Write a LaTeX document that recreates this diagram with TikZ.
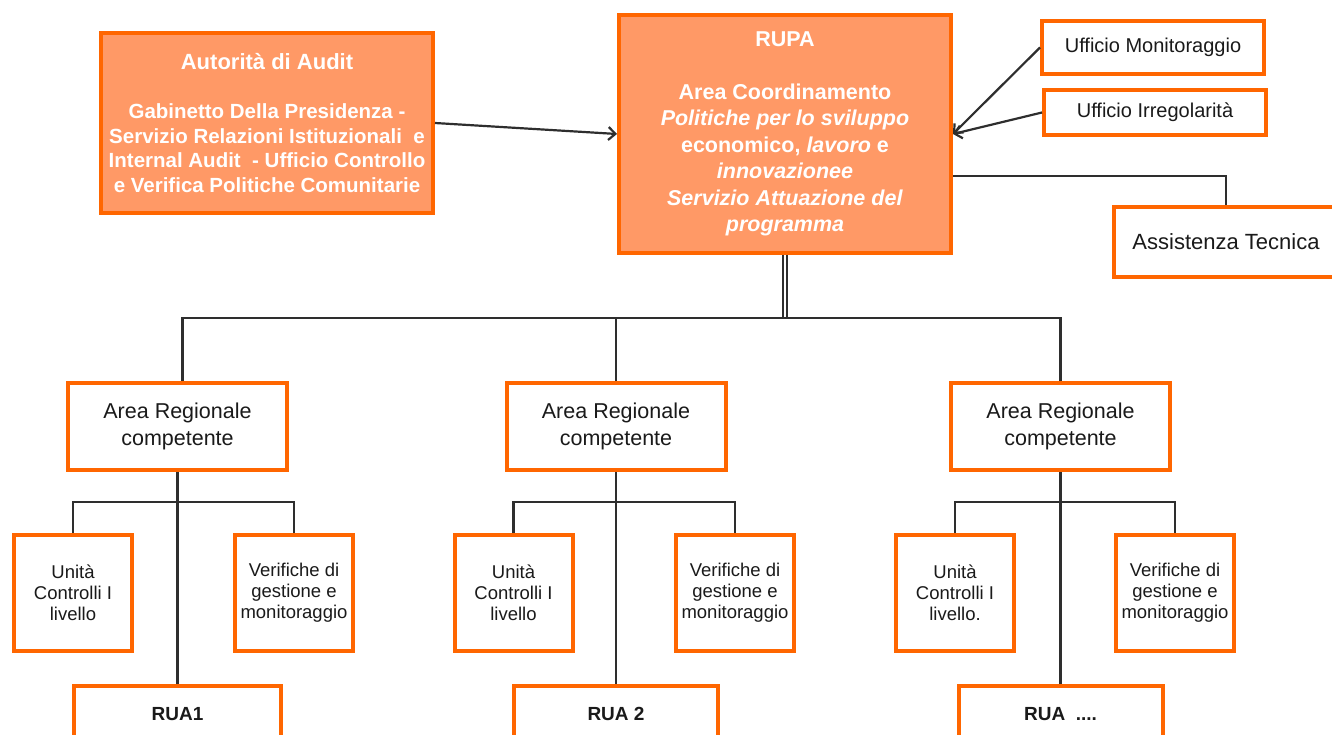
\documentclass[tikz,border=0pt]{standalone}
\usepackage{fontspec}
\setmainfont{Liberation Sans}
\usetikzlibrary{arrows.meta,calc}
\definecolor{orbd}{HTML}{FF6600}
\definecolor{orfill}{HTML}{FF9966}
\definecolor{ln}{HTML}{2E2E2E}
\definecolor{txt}{HTML}{1A1A1A}
\begin{document}
\begin{tikzpicture}[x=1pt,y=-1pt,
  box/.style={draw=orbd, line width=4pt, fill=white, inner sep=0pt, align=center, text=txt},
  obox/.style={box, fill=orfill, text=white},
  areabox/.style={box, minimum width=219pt, minimum height=87pt, font=\fontsize{21.5}{27}\selectfont},
  smallbox/.style={box, minimum width=118pt, minimum height=116pt, font=\fontsize{18.5}{21}\selectfont},
  ruabox/.style={box, minimum height=56pt, font=\bfseries\fontsize{19}{22}\selectfont},
  conn/.style={draw=ln, line width=2.2pt},
  arr/.style={conn, -{Straight Barb[length=7pt,width=13pt]}}
]
\useasboundingbox (0,0) rectangle (1332,735);

% top level
\node[obox, minimum width=332pt, minimum height=180pt, font=\bfseries\fontsize{20.5}{24.5}\selectfont] (aut) at (267,123)
  {{\fontsize{22}{24.5}\selectfont Autorità di Audit}\\[24.5pt]
   Gabinetto Della Presidenza -\\
   Servizio Relazioni Istituzionali\ \ e\\
   Internal Audit\ \ - Ufficio Controllo\\
   e Verifica Politiche Comunitarie};

\node[obox, minimum width=332pt, minimum height=238pt, font=\bfseries\fontsize{21.5}{26.5}\selectfont] (rupa) at (785,134)
  {RUPA\\[26.5pt]
   Area Coordinamento\\
   \textit{Politiche per lo sviluppo}\\
   economico, \textit{lavoro} e\\
   \textit{innovazionee}\\
   \textit{Servizio Attuazione del}\\
   \textit{programma}};

\node[box, minimum width=222pt, minimum height=53pt, font=\fontsize{20}{24}\selectfont] (mon) at (1153,47.5) {Ufficio Monitoraggio};
\node[box, minimum width=222pt, minimum height=45pt, font=\fontsize{20}{24}\selectfont] (irr) at (1155,112.5) {Ufficio Irregolarità};
\node[box, minimum width=224pt, minimum height=70pt, font=\fontsize{22}{26}\selectfont] (ass) at (1226,242) {Assistenza Tecnica};

% regional areas
\node[areabox] (aL) at (177.5,426.5) {Area Regionale\\competente};
\node[areabox] (aM) at (616,426.5) {Area Regionale\\competente};
\node[areabox] (aR) at (1060.5,426.5) {Area Regionale\\competente};

% lower boxes
\node[smallbox] (uL) at (73,593) {Unità\\Controlli I\\livello};
\node[smallbox] (vL) at (294,593) {Verifiche di\\gestione e\\monitoraggio};
\node[smallbox] (uM) at (513.5,593) {Unità\\Controlli I\\livello};
\node[smallbox] (vM) at (735,593) {Verifiche di\\gestione e\\monitoraggio};
\node[smallbox] (uR) at (955,593) {Unità\\Controlli I\\livello.};
\node[smallbox] (vR) at (1175,593) {Verifiche di\\gestione e\\monitoraggio};

\node[ruabox, minimum width=207pt] (r1) at (177.5,714) {RUA1};
\node[ruabox, minimum width=204pt] (r2) at (616,714) {RUA 2};
\node[ruabox, minimum width=204pt] (r3) at (1060.5,714) {RUA\ \ ....};

% connectors top
\draw[arr] (aut.east) -- (rupa.west);
\draw[arr] (mon.west) -- (rupa.east);
\draw[arr] (irr.west) -- (rupa.east);
\draw[conn] ([yshift=-42pt]rupa.east) -| (ass.north);

\coordinate (bus) at (785,318);
\draw[conn, line width=2pt, double=white, double distance=2.5pt] (rupa.south) -- (rupa.south |- bus);
\draw[conn] ([xshift=5pt]aL.north) -- ([xshift=5pt]aL.north |- bus) -- (aR.north |- bus) -- (aR.north);
\draw[conn] (aM.north) -- (aM.north |- bus);

% connectors bottom
\foreach \a/\u/\v/\r in {aL/uL/vL/r1, aM/uM/vM/r2, aR/uR/vR/r3}{
  \coordinate (j\a) at ($(\a.south)+(0,30)$);
  \draw[conn] (\a.south) -- (\r.north);
  \draw[conn] (\u.north) -- (\u.north |- j\a) -- (\v.north |- j\a) -- (\v.north);
}
\end{tikzpicture}
\end{document}
